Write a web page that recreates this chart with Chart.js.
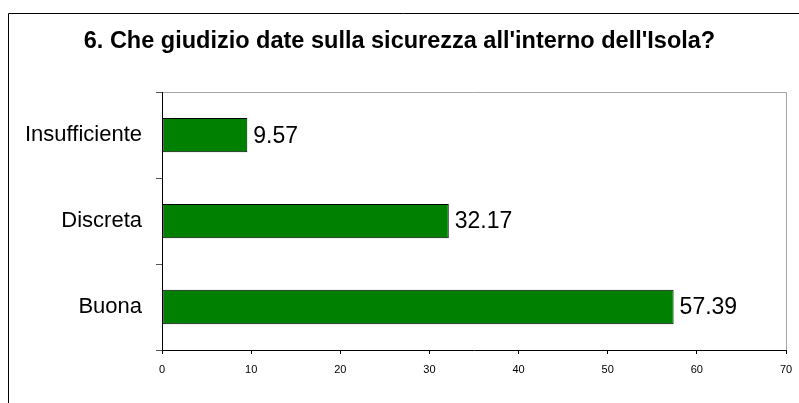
<!DOCTYPE HTML>
<html>
<head>
    <title>Sicurezza</title>
    <meta charset="utf-8" />
    <script src="https://cdn.jsdelivr.net/npm/chart.js@4.4.1/dist/chart.umd.min.js"></script>
    <style>
        html, body { margin: 0; padding: 0; background: #fff; }
        #container { width: 799px; height: 403px; }
    </style>
</head>
<body>
    <div id="container">
        <canvas id="chartCanvas" width="799" height="403"></canvas>
    </div>

    <script>
        const title_text = "6. Che giudizio date sulla sicurezza all'interno dell'Isola?";
        const categories = ["Insufficiente", "Discreta", "Buona"];
        const values = [9.57, 32.17, 57.39];
        const x_min = 0;
        const x_max = 70;
        const x_step = 10;

        const font_family = "'Liberation Sans', Arial, sans-serif";
        const bar_color = "#008000";

        // outer frame + grey border of the plot area
        const frame_plugin = {
            id: 'frame',
            beforeDraw(chart) {
                const ctx = chart.ctx;
                const area = chart.chartArea;
                ctx.save();
                ctx.strokeStyle = "#000";
                ctx.lineWidth = 1;
                ctx.beginPath();
                ctx.moveTo(8.5, chart.height);
                ctx.lineTo(8.5, 13.5);
                ctx.lineTo(chart.width, 13.5);
                ctx.stroke();

                ctx.strokeStyle = "#a6a6a6";
                ctx.beginPath();
                ctx.moveTo(Math.round(area.left) + 0.5, Math.round(area.top) + 0.5);
                ctx.lineTo(Math.round(area.right) + 0.5, Math.round(area.top) + 0.5);
                ctx.lineTo(Math.round(area.right) + 0.5, Math.round(area.bottom) + 0.5);
                ctx.stroke();
                ctx.restore();
            }
        };

        // value written right of each bar
        const value_labels = {
            id: 'valueLabels',
            afterDatasetsDraw(chart) {
                const ctx = chart.ctx;
                const meta = chart.getDatasetMeta(0);
                ctx.save();
                ctx.font = "23px " + font_family;
                ctx.fillStyle = "#000";
                ctx.textAlign = "left";
                ctx.textBaseline = "middle";
                meta.data.forEach((bar, i) => {
                    ctx.fillText(values[i].toFixed(2), bar.x + 6, bar.y + 1);
                });
                ctx.restore();
            }
        };

        const config = {
            type: 'bar',
            data: {
                labels: categories,
                datasets: [{
                    data: values,
                    backgroundColor: bar_color,
                    borderColor: "#000",
                    borderWidth: 1,
                    borderSkipped: false,
                    barPercentage: 0.4,
                    categoryPercentage: 1
                }]
            },
            options: {
                indexAxis: 'y',
                responsive: false,
                animation: false,
                layout: {
                    padding: { left: 13, right: 13, top: 0, bottom: 0 }
                },
                plugins: {
                    legend: { display: false },
                    tooltip: { enabled: false },
                    title: {
                        display: true,
                        text: title_text,
                        color: "#000",
                        font: { family: font_family, size: 23.5, weight: 'bold' },
                        padding: { top: 27, bottom: 37 }
                    }
                },
                scales: {
                    x: {
                        min: x_min,
                        max: x_max,
                        afterFit(scale) {
                            scale.height = 53;
                            scale.paddingLeft = 0;
                            scale.paddingRight = 0;
                        },
                        ticks: {
                            stepSize: x_step,
                            color: "#000",
                            padding: 9,
                            maxRotation: 0,
                            font: { family: font_family, size: 11 }
                        },
                        grid: {
                            drawOnChartArea: false,
                            tickLength: 4,
                            color: "#000"
                        },
                        border: { color: "#000", width: 1 }
                    },
                    y: {
                        afterFit(scale) { scale.width = 149; },
                        ticks: {
                            color: "#000",
                            padding: 14,
                            font: { family: font_family, size: 22 }
                        },
                        grid: {
                            drawOnChartArea: false,
                            tickLength: 6,
                            color: "#555"
                        },
                        border: { color: "#000", width: 1 }
                    }
                }
            },
            plugins: [frame_plugin, value_labels]
        };

        new Chart(document.getElementById('chartCanvas'), config);
    </script>
</body>
</html>
